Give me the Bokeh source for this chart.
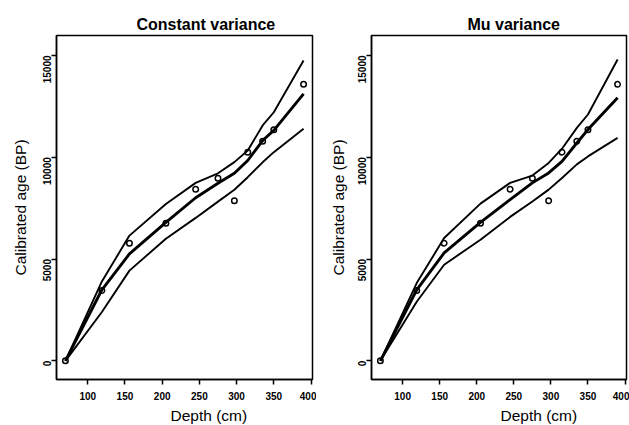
from bokeh.plotting import figure
from bokeh.layouts import row
from bokeh.models import Range1d, FixedTicker, Title
from bokeh.embed import file_html
from bokeh.resources import INLINE
import math

# Observed calibrated ages
depth = [70, 119, 156, 205, 245, 275, 297, 315, 335, 350, 390]
age = [0, 3450, 5780, 6760, 8430, 8970, 7860, 10250, 10780, 11350, 13580]

# Constant variance model: fit and bounds
const_upper = [0, 3900, 6150, 7700, 8740, 9210, 9760, 10330, 11560, 12210, 14750]
const_mid = [0, 3490, 5250, 6800, 8010, 8720, 9210, 9840, 10820, 11320, 13110]
const_lower = [0, 2400, 4430, 6000, 7020, 7820, 8400, 9020, 9750, 10250, 11400]

# Mu variance model: fit and bounds
mu_upper = [0, 3820, 6030, 7720, 8740, 9100, 9720, 10420, 11440, 12100, 14800]
mu_mid = [0, 3490, 5300, 6800, 7920, 8740, 9230, 9800, 10700, 11360, 12920]
mu_lower = [0, 2900, 4720, 5950, 7070, 7830, 8410, 8980, 9650, 10040, 10950]

x_ticks = [100, 150, 200, 250, 300, 350, 400]
y_ticks = [0, 5000, 10000, 15000]

FONT = "Liberation Sans"


def panel(title, upper, mid, lower, width, bl, br, t_off, xl_off, y_lab_standoff):
    p = figure(width=width, height=425, output_backend="svg", toolbar_location=None,
               x_range=Range1d(58, 402), y_range=Range1d(-918, 15980),
               min_border_left=bl, min_border_right=br,
               min_border_top=35, min_border_bottom=46,
               title=None)
    p.add_layout(Title(text=title, align="left", offset=t_off, standoff=6,
                       text_font=FONT, text_font_size="16px", text_font_style="bold",
                       text_color="black"), "above")
    p.add_layout(Title(text="Depth (cm)", align="left", offset=xl_off, standoff=4,
                       text_font=FONT, text_font_size="15.5px", text_font_style="normal",
                       text_color="black"), "below")
    p.xgrid.visible = False
    p.ygrid.visible = False
    p.outline_line_color = "black"
    p.outline_line_width = 1.5
    p.background_fill_color = "white"
    p.border_fill_color = "white"

    p.xaxis.ticker = FixedTicker(ticks=x_ticks)
    p.yaxis.ticker = FixedTicker(ticks=y_ticks)
    for ax in (p.xaxis[0], p.yaxis[0]):
        ax.axis_line_color = "black"
        ax.axis_line_width = 1.5
        ax.major_tick_line_width = 1.5
        ax.major_tick_in = 0
        ax.major_tick_out = 5
        ax.minor_tick_line_color = None
        ax.major_label_text_font = FONT
        ax.major_label_text_font_size = "10px"
        ax.major_label_text_font_style = "bold"
        ax.major_label_text_color = "black"
    p.xaxis.major_label_standoff = 7
    p.yaxis.major_label_standoff = 4
    p.yaxis.major_label_orientation = math.pi / 2
    p.yaxis.axis_label = "Calibrated age (BP)"
    p.yaxis.axis_label_text_font = FONT
    p.yaxis.axis_label_text_font_size = "15.5px"
    p.yaxis.axis_label_text_font_style = "normal"
    p.yaxis.axis_label_text_color = "black"
    p.yaxis.axis_label_standoff = y_lab_standoff

    p.line(depth, upper, line_color="black", line_width=1.9)
    p.line(depth, lower, line_color="black", line_width=1.9)
    p.line(depth, mid, line_color="black", line_width=2.9)
    p.scatter(depth, age, size=5.5, fill_color=None, line_color="black", line_width=1.5)
    return p


p1 = panel("Constant variance", const_upper, const_mid, const_lower, 316, 56, 4, 80, 114, 8)
p2 = panel("Mu variance", mu_upper, mu_mid, mu_lower, 313, 55, 3, 96, 129, 5)

layout = row(p1, p2)
open("out.html", "w").write(file_html(layout, INLINE))
